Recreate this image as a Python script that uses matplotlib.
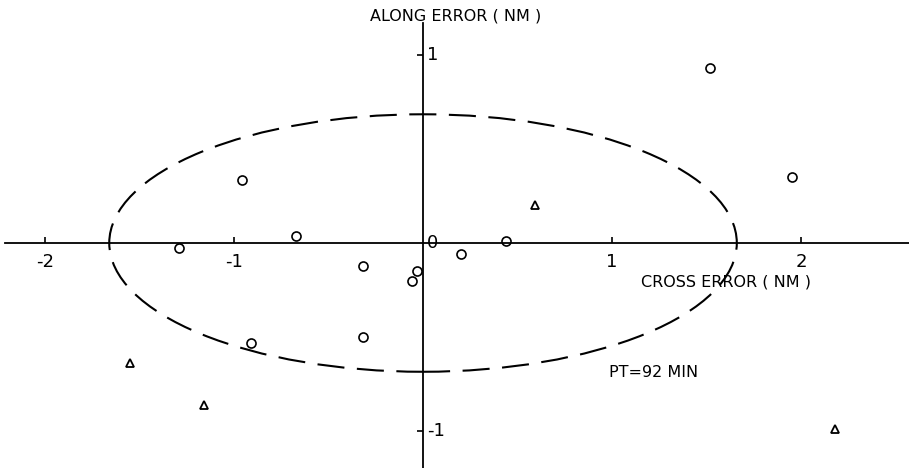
import matplotlib
matplotlib.use('Agg')
import matplotlib.pyplot as plt
from matplotlib.patches import Ellipse

# data
circle_x = [1.52, 1.95, -0.96, -0.67, -1.29, -0.32, 0.20, 0.44, -0.03, -0.06, -0.32, -0.91]
circle_y = [0.93, 0.35, 0.335, 0.037, -0.027, -0.12, -0.06, 0.01, -0.15, -0.20, -0.50, -0.53]
tri_x = [0.59, -1.55, -1.16, 2.18]
tri_y = [0.20, -0.64, -0.86, -0.99]
ell_width = 3.32
ell_height = 1.37
x_ticks = [-2, -1, 1, 2]
y_ticks = [-1, 1]

plt.rcParams['font.family'] = ['DejaVu Sans']

fig = plt.figure(figsize=(9.09, 4.68), dpi=100)
ax = fig.add_axes([0, 0, 1, 1])
ax.set_xlim(-2.238, 2.571)
ax.set_ylim(-1.197, 1.293)

# axes through the origin
for s in ['top', 'right']:
    ax.spines[s].set_visible(False)
ax.spines['bottom'].set_position(('data', 0))
ax.spines['left'].set_position(('data', 0))
ax.spines['bottom'].set_bounds(-2.21, 2.57)
ax.spines['left'].set_bounds(-1.2, 1.17)
ax.spines['bottom'].set_linewidth(1.3)
ax.spines['left'].set_linewidth(1.3)

ax.set_xticks(x_ticks)
ax.set_xticklabels([str(t) for t in x_ticks], fontsize=13)
ax.tick_params(axis='x', direction='in', length=4, width=1.2, pad=7)
ax.set_yticks(y_ticks)
ax.set_yticklabels([])
ax.tick_params(axis='y', direction='out', length=4, width=1.2)
for t in y_ticks + [0]:
    ax.text(0.02, t, str(t), fontsize=13, ha='left', va='center')

# error ellipse
ell = Ellipse((0, 0), ell_width, ell_height, fill=False, color='black',
              linewidth=1.5, linestyle=(0, (13, 6)))
ax.add_patch(ell)

ax.plot(circle_x, circle_y, 'o', markersize=6.5, markerfacecolor='white',
        markeredgecolor='black', markeredgewidth=1.2, linestyle='none')
ax.plot(tri_x, tri_y, '^', markersize=6, markerfacecolor='white',
        markeredgecolor='black', markeredgewidth=1.3, linestyle='none')

ax.text(0.17, 1.21, 'ALONG ERROR ( NM )', fontsize=11.5, ha='center', va='center')
ax.text(1.155, -0.21, 'CROSS ERROR ( NM )', fontsize=11.5, ha='left', va='center')
ax.text(0.985, -0.69, 'PT=92 MIN', fontsize=11.5, ha='left', va='center')

fig.savefig('out.png', dpi=100)
